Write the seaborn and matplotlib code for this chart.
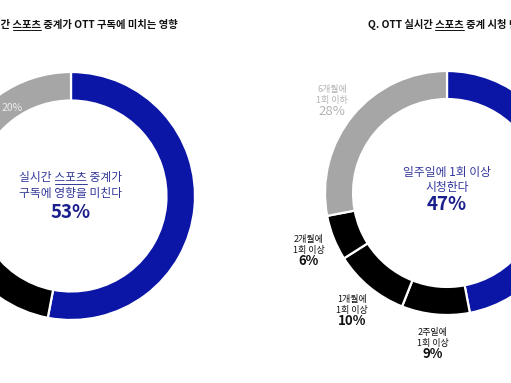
import matplotlib
matplotlib.use("Agg")
import numpy as np
import matplotlib.pyplot as plt
from matplotlib.lines import Line2D
import seaborn as sns

# ---------------- data ----------------
left_title = "Q. 실시간 스포츠 중계가 OTT 구독에 미치는 영향"
left_labels = ["영향을 미친다", "영향을 미치지 않는다", "모르겠다"]
left_values = [53, 27, 20]
left_center_lines = ["실시간 스포츠 중계가", "구독에 영향을 미친다"]
left_center_pct = "53%"

right_title = "Q. OTT 실시간 스포츠 중계 시청 빈도"
right_labels = ["일주일에\n1회 이상", "2주일에\n1회 이상", "1개월에\n1회 이상", "2개월에\n1회 이상", "6개월에\n1회 이하"]
right_values = [47, 9, 10, 6, 28]
right_center_lines = ["일주일에 1회 이상", "시청한다"]
right_center_pct = "47%"

BLUE = "#0b16a6"
BLACK = "#000000"
GRAY = "#a6a6a6"
left_colors = [BLUE, BLACK, GRAY]
right_colors = [BLUE, BLACK, BLACK, BLACK, GRAY]

sns.set_theme(style="white")
plt.rcParams["font.family"] = ["Noto Sans CJK KR", "DejaVu Sans"]

W, H = 511, 383
fig = plt.figure(figsize=(W / 100, H / 100), dpi=100)
fig.patch.set_facecolor("white")
renderer = fig.canvas.get_renderer()


def fx(x):
    return x / W


def fy(y):
    return 1 - y / H


def text_width(s, **kw):
    t = fig.text(0, 0, s, **kw)
    w = t.get_window_extent(renderer).width
    t.remove()
    return w


def underline(full, sub, x_start, y_base, lcolor, lwidth=0.8, **kw):
    i = full.index(sub)
    end = text_width(full[: i + len(sub)], **kw)
    sw = text_width(sub, **kw)
    x0 = x_start + end - sw
    x1 = x_start + end
    fig.add_artist(Line2D([fx(x0), fx(x1)], [fy(y_base), fy(y_base)],
                          color=lcolor, lw=lwidth, transform=fig.transFigure))


def donut(cx, cy, r, values, colors):
    ax = fig.add_axes([fx(cx - r), (H - cy - r) / H, 2 * r / W, 2 * r / H])
    wedges, _ = ax.pie(values, colors=colors, startangle=90, counterclock=False,
                       radius=1, wedgeprops=dict(width=0.23, edgecolor="white", linewidth=1.6))
    ax.set_xlim(-1, 1)
    ax.set_ylim(-1, 1)
    ax.set_aspect("equal")
    ax.axis("off")
    return ax, wedges


def mid(w, rr):
    th = np.deg2rad((w.theta1 + w.theta2) / 2)
    return rr * np.cos(th), rr * np.sin(th)


# ---------------- left donut ----------------
lcx, lcy, lr = 71, 196, 124
axL, wL = donut(lcx, lcy, lr, left_values, left_colors)
for k, (w, v) in enumerate(zip(wL, left_values)):
    if k == 0:
        continue
    x, y = mid(w, 0.87)
    axL.annotate(f"{v}%", (x, y), xytext=(5, 1), textcoords="offset pixels",
                 ha="center", va="center", fontsize=7.5, color="#eeeeee",
                 annotation_clip=False)

ckw = dict(fontsize=8.5, color="#33389a")
for i, line in enumerate(left_center_lines):
    yy = lcy - 18 + i * 15
    fig.text(fx(lcx), fy(yy), line, ha="center", va="center", **ckw)
fl = left_center_lines[0]
fw = text_width(fl, **ckw)
underline(fl, "스포츠", lcx - fw / 2, lcy - 12, "#33389a", 0.7, **ckw)
fig.text(fx(lcx), fy(lcy + 16), left_center_pct, ha="center", va="center",
         fontsize=13.5, fontweight="bold", color="#1a1f8c")

# ---------------- right donut ----------------
rcx, rcy, rr = 447, 193, 122
axR, wR = donut(rcx, rcy, rr, right_values, right_colors)
for k, (w, lab, v) in enumerate(zip(wR, right_labels, right_values)):
    if k == 0:
        continue
    x, y = mid(w, 1.22)
    col = "#b4b4b4" if k == len(right_values) - 1 else "#111111"
    axR.annotate(lab, (x, y), xytext=(0, 3), textcoords="offset pixels",
                 ha="center", va="center", fontsize=6.5, color=col, linespacing=1.25,
                 annotation_clip=False)
    axR.annotate(f"{v}%", (x, y), xytext=(0, -13), textcoords="offset pixels",
                 ha="center", va="center", fontsize=9.5, color=col,
                 fontweight="normal" if k == len(right_values) - 1 else "bold",
                 annotation_clip=False)

for i, line in enumerate(right_center_lines):
    yy = rcy - 20 + i * 14
    fig.text(fx(rcx), fy(yy), line, ha="center", va="center", **ckw)
fig.text(fx(rcx), fy(rcy + 12), right_center_pct, ha="center", va="center",
         fontsize=13.5, fontweight="bold", color="#1a1f8c")

# ---------------- titles ----------------
tkw = dict(fontsize=7.4, fontweight="bold", color="#111111")
lw_full = text_width(left_title, **tkw)
lx_end = 178
fig.text(fx(lx_end), fy(24), left_title, ha="right", va="center", **tkw)
underline(left_title, "스포츠", lx_end - lw_full, 30, "#111111", 0.7, **tkw)

rx = 368
fig.text(fx(rx), fy(24), right_title, ha="left", va="center", **tkw)
underline(right_title, "스포츠", rx, 30, "#111111", 0.7, **tkw)

fig.savefig("out.png", dpi=100, facecolor="white")
